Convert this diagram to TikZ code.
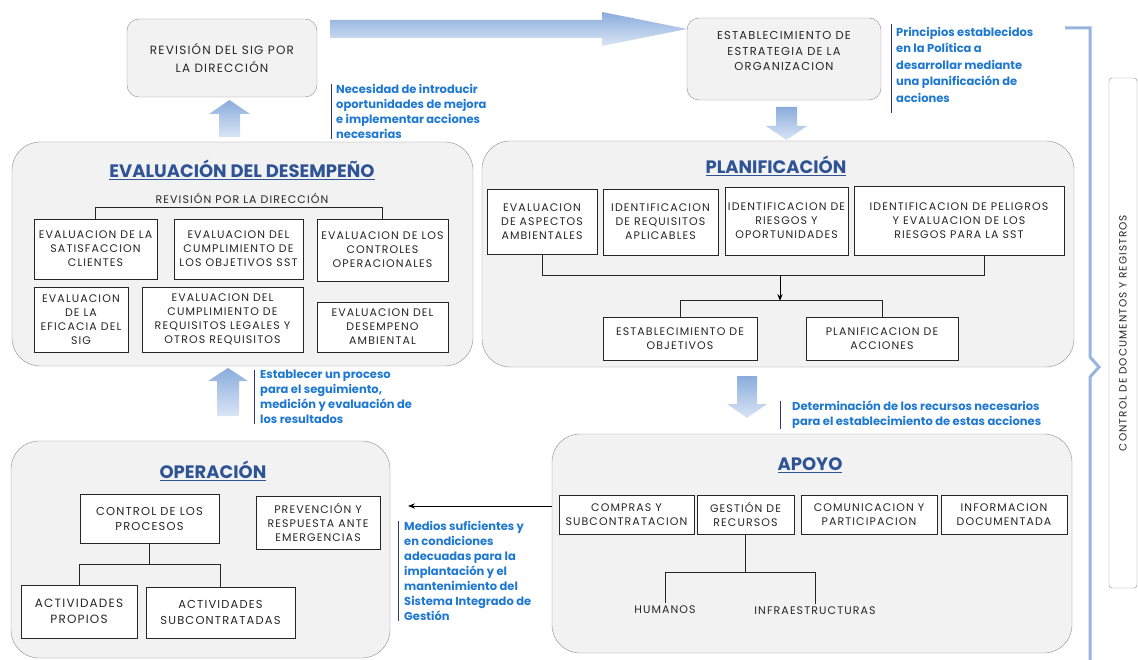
\documentclass[tikz,border=0pt]{standalone}
\usepackage{fontspec}
\setmainfont{Poppins}
\newfontfamily\boxfont{Poppins}[LetterSpace=10]
\usetikzlibrary{arrows.meta, positioning, calc, shadows}

\definecolor{titleblue}{RGB}{47,84,150}
\definecolor{noteblue}{RGB}{30,120,210}
\definecolor{notebar}{RGB}{40,60,110}
\definecolor{arrowdark}{RGB}{138,172,220}
\definecolor{arrowlight}{RGB}{218,229,245}
\definecolor{bracecol}{RGB}{150,182,222}

\begin{document}
\begin{tikzpicture}[
  x=1pt, y=-1pt,
  font=\boxfont\fontsize{11}{14}\selectfont,
  bigbox/.style={draw=black!45, fill=black!5, rounded corners=28pt},
  topbox/.style={draw=black!45, fill=black!5, rounded corners=12pt, align=center, text=black!85},
  inbox/.style={draw=black!85, fill=white, line width=0.9pt, align=center, text=black!85, inner sep=0pt,
    drop shadow={shadow xshift=1pt, shadow yshift=-1pt, opacity=0.25}},
  title/.style={font=\fontsize{18}{20}\selectfont\bfseries, text=titleblue},
  note/.style={anchor=north west, align=left, inner sep=0pt, text=noteblue, font=\fontsize{11.5}{15}\selectfont\bfseries},
  vbar/.style={draw=notebar, line width=1pt},
  blockarrow/.style={top color=arrowdark, bottom color=arrowlight, draw=none},
  link/.style={draw=black!85, line width=0.9pt},
  arrow/.style={-{Stealth[length=7pt]}, line width=0.9pt},
]
\useasboundingbox (0,0) rectangle (1138,660);

% top row
\node[topbox, minimum width=190pt, minimum height=78pt, font=\boxfont\fontsize{12}{18}\selectfont] (rev) at (222,58) {REVISIÓN DEL SIG POR\\LA DIRECCIÓN};
\node[topbox, minimum width=194pt, minimum height=82pt, font=\boxfont\fontsize{11.5}{15.5}\selectfont] (estr) at (784,59) {ESTABLECIMIENTO DE\\ESTRATEGIA DE LA\\ORGANIZACION\\\mbox{}};
\shade[blockarrow] (330,20) -- (602,20) -- (602,12) -- (687,29) -- (602,46) -- (602,38) -- (330,38) -- cycle;
\shade[blockarrow] (219,137) -- (219,114) -- (209,114) -- (229.5,100) -- (250,114) -- (240,114) -- (240,137) -- cycle;
\shade[blockarrow] (776,107) -- (797,107) -- (797,126) -- (807,126) -- (786.5,140) -- (766,126) -- (776,126) -- cycle;
\shade[blockarrow] (217,416) -- (217,381) -- (208,381) -- (228,368) -- (248,381) -- (239,381) -- (239,416) -- cycle;
\shade[blockarrow] (737,376) -- (757,376) -- (757,404) -- (767,404) -- (747,418) -- (727,404) -- (737,404) -- cycle;

% notes
\node[note] (need) at (336,84) {Necesidad de introducir\\oportunidades de mejora\\e implementar acciones\\necesarias};
\draw[vbar] ([xshift=-5pt]need.north west) -- ([xshift=-5pt]need.south west);
\node[note, font=\fontsize{11.5}{16.5}\selectfont\bfseries] (princ) at (896,27) {Principios establecidos\\en la Política a\\desarrollar mediante\\una planificación de\\acciones};
\draw[vbar] ([xshift=-5pt,yshift=3pt]princ.north west) -- ([xshift=-5pt,yshift=-10pt]princ.south west);
\node[note] (estab) at (260,370) {Establecer un proceso\\para el seguimiento,\\medición y evaluación de\\los resultados};
\draw[vbar] ([xshift=-6pt]estab.north west) -- ([xshift=-6pt]estab.south west);
\node[note] (deter) at (792,401) {Determinación de los recursos necesarios\\para el establecimiento de estas acciones};
\draw[vbar] ([xshift=-12pt]deter.north west) -- ([xshift=-12pt]deter.south west);
\node[note] (medios) at (404,521) {Medios suficientes y\\en condiciones\\adecuadas para la\\implantación y el\\mantenimiento del\\Sistema Integrado de\\Gestión};
\draw[vbar] ([xshift=-6pt]medios.north west) -- ([xshift=-6pt]medios.south west);

% evaluacion del desempeno
\node[bigbox, minimum width=461pt, minimum height=224pt] (evalbox) at (242.5,254) {};
\node[title] (evaltit) at (242,170) {\underline{EVALUACIÓN DEL DESEMPEÑO}};
\node[text=black!85] (revpd) at (242,198) {REVISIÓN POR LA DIRECCIÓN};
\node[inbox, minimum width=123pt, minimum height=60pt] (sat) at (95.5,249) {EVALUACION DE LA\\SATISFACCION\\CLIENTES};
\node[inbox, minimum width=129pt, minimum height=60pt] (obj) at (238.5,249) {EVALUACION DEL\\CUMPLIMIENTO DE\\LOS OBJETIVOS SST};
\node[inbox, minimum width=131pt, minimum height=62pt] (ctr) at (382.5,250) {EVALUACION DE LOS\\CONTROLES\\OPERACIONALES};
\node[inbox, minimum width=94pt, minimum height=65pt] (efi) at (81,319.5) {EVALUACION\\DE LA\\EFICACIA DEL\\SIG};
\node[inbox, minimum width=161pt, minimum height=65pt] (leg) at (222.5,319.5) {EVALUACION DEL\\CUMPLIMIENTO DE\\REQUISITOS LEGALES Y\\OTROS REQUISITOS};
\node[inbox, minimum width=131pt, minimum height=50pt] (amb) at (382.5,327) {EVALUACION DEL\\DESEMPENO\\AMBIENTAL};
\draw[link] (sat.north) -- ++(0,-11) -| (ctr.north);

% planificacion
\node[bigbox, minimum width=592pt, minimum height=226pt] (planbox) at (778,254) {};
\node[title] (plantit) at (776,166) {\underline{PLANIFICACIÓN}};
\node[inbox, minimum width=110pt, minimum height=65pt] (asp) at (542,221.5) {EVALUACION\\DE ASPECTOS\\AMBIENTALES};
\node[inbox, minimum width=115pt, minimum height=66pt] (req) at (660.5,222) {IDENTIFICACION\\DE REQUISITOS\\APLICABLES};
\node[inbox, minimum width=123pt, minimum height=68pt] (rie) at (786.5,221) {IDENTIFICACION DE\\RIESGOS Y\\OPORTUNIDADES};
\node[inbox, minimum width=210pt, minimum height=69pt] (pel) at (959,220.5) {IDENTIFICACION DE PELIGROS\\Y EVALUACION DE LOS\\RIESGOS PARA LA SST};
\node[inbox, minimum width=154pt, minimum height=43pt] (obje) at (680,338.5) {ESTABLECIMIENTO DE\\OBJETIVOS};
\node[inbox, minimum width=152pt, minimum height=43pt] (acc) at (882,338.5) {PLANIFICACION DE\\ACCIONES};
\coordinate (pjoin) at (780,275);
\coordinate (psplit) at (780,301);
\draw[link] (asp.south) |- ($(pel.south)+(25,20)$) -- ($(pel.south)+(25,0)$);
\draw[arrow] (pjoin) -- (psplit);
\draw[link] (obje.north) -- ++(0,-16) -| (acc.north);

% apoyo
\node[bigbox, minimum width=520pt, minimum height=219pt] (apoybox) at (812,543.5) {};
\node[title] (apoytit) at (810,465) {\underline{APOYO}};
\node[inbox, minimum width=135pt, minimum height=39pt] (comp) at (626.5,514.5) {COMPRAS Y\\SUBCONTRATACION};
\node[inbox, minimum width=97pt, minimum height=39pt] (gest) at (745.5,514.5) {GESTIÓN DE\\RECURSOS};
\node[inbox, minimum width=136pt, minimum height=39pt] (comu) at (869,514.5) {COMUNICACION Y\\PARTICIPACION};
\node[inbox, minimum width=126pt, minimum height=39pt] (info) at (1004,514.5) {INFORMACION\\DOCUMENTADA};
\node[text=black!85] (hum) at (665,610) {HUMANOS};
\node[text=black!85] (infra) at (815,611) {INFRAESTRUCTURAS};
\draw[link] (gest.south) -- ++(0,38) coordinate (gjoin);
\draw[link] (hum.north) |- (gjoin) -| (infra.north);
\coordinate (medtip) at (408,506);
\draw[arrow] (apoybox.west |- medtip) -- (medtip);

% operacion
\node[bigbox, minimum width=379pt, minimum height=217pt] (operbox) at (200.5,549.5) {};
\node[title] (opertit) at (213,471) {\underline{OPERACIÓN}};
\node[inbox, minimum width=139pt, minimum height=49pt, font=\boxfont\fontsize{11.5}{15}\selectfont] (ctlp) at (149.5,518.5) {CONTROL DE LOS\\PROCESOS};
\node[inbox, minimum width=124pt, minimum height=53pt] (prev) at (318,522.5) {PREVENCIÓN Y\\RESPUESTA ANTE\\EMERGENCIAS};
\node[inbox, minimum width=116pt, minimum height=53pt, font=\boxfont\fontsize{12}{16}\selectfont] (prop) at (79,611.5) {ACTIVIDADES\\PROPIOS};
\node[inbox, minimum width=149pt, minimum height=51pt, font=\boxfont\fontsize{11.5}{16}\selectfont] (subc) at (220.5,612.5) {ACTIVIDADES\\SUBCONTRATADAS};
\draw[link] (ctlp.south) -- ++(0,21) coordinate (ojoin);
\draw[link] (prop.north) |- (ojoin) -| (subc.north);

% control de documentos
\draw[bracecol, line width=3pt] (1065,28) -- (1090,28) -- (1090,357) -- (1099,367) -- (1090,377) -- (1090,660);
\node[draw=black!45, rounded corners=3pt, rotate=90, minimum width=510pt, minimum height=28pt, inner sep=0pt, text=black!85, font=\boxfont\fontsize{10.5}{12}\selectfont] (ctrl) at (1123,333) {CONTROL DE DOCUMENTOS Y REGISTROS};
\end{tikzpicture}
\end{document}
